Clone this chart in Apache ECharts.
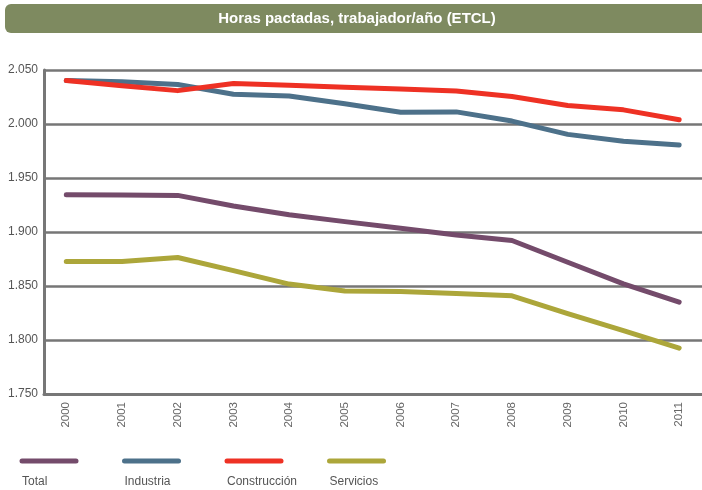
<!DOCTYPE html>
<html>
<head>
<meta charset="utf-8">
<script src="https://cdn.jsdelivr.net/npm/echarts@6/dist/echarts.min.js"></script>
<style>
  html, body { margin: 0; padding: 0; background: #fff; }
  #chart { width: 702px; height: 490px; }
</style>
</head>
<body>
<div id="chart"></div>
<script>
const title = 'Horas pactadas, trabajador/año (ETCL)'
const years = [2000, 2001, 2002, 2003, 2004, 2005, 2006, 2007, 2008, 2009, 2010, 2011]
const yTicks = [1750, 1800, 1850, 1900, 1950, 2000, 2050]

const total = [1934.5, 1934.3, 1933.9, 1924, 1916, 1909.6, 1903.4, 1897.3, 1892.1, 1872, 1852, 1835]
const industria = [2040.2, 2039.1, 2036.5, 2027.6, 2026, 2018.7, 2010.9, 2011.2, 2002.7, 1990.4, 1984, 1980.5]
const construccion = [2040.2, 2035.5, 2030.9, 2037.5, 2035.8, 2034.1, 2032.3, 2030.6, 2025.4, 2017.2, 2013.1, 2003.9]
const servicios = [1872.7, 1872.7, 1876.4, 1864.2, 1851.8, 1845.4, 1844.8, 1843.1, 1840.9, 1824.5, 1808.6, 1792.5]

const seriesNames = ['Total', 'Industria', 'Construcción', 'Servicios']
const seriesData = [total, industria, construccion, servicios]
const colors = ['#744b6b', '#4d718a', '#ee3124', '#aca63a']

const chart = echarts.init(document.getElementById('chart'))

// leyenda: trazo arriba, texto debajo
const legendItems = []
seriesNames.forEach((name, i) => {
  const x = 20 + i * 102.5
  legendItems.push({
    type: 'line',
    shape: { x1: x + 2, y1: 461, x2: x + 56, y2: 461 },
    style: { stroke: colors[i], lineWidth: 5, lineCap: 'round' }
  })
  legendItems.push({
    type: 'text',
    x: x + 2,
    y: 476,
    style: { text: name, fill: '#555', font: '12px "Liberation Sans", Arial, sans-serif' }
  })
})

chart.setOption({
  animation: false,
  grid: { left: 44, right: 0, top: 70, bottom: 96 },
  graphic: [
    {
      type: 'rect',
      shape: { x: 5, y: 4, width: 720, height: 29, r: 6 },
      style: { fill: '#7e8a60' }
    },
    {
      type: 'text',
      x: 357,
      y: 19,
      style: {
        text: title,
        fill: '#fff',
        font: 'bold 15px "Liberation Sans Narrow", "Liberation Sans", Arial, sans-serif',
        align: 'center',
        verticalAlign: 'middle'
      }
    },
    ...legendItems
  ],
  xAxis: {
    type: 'value',
    min: 1999.6,
    max: 2011.41,
    axisLine: { lineStyle: { color: '#777', width: 3 } },
    axisTick: { show: false },
    splitLine: { show: false },
    axisLabel: {
      customValues: years,
      rotate: 90,
      margin: 8,
      color: '#666',
      fontSize: 11.5,
      fontFamily: 'Liberation Sans, Arial, sans-serif',
      formatter: v => String(v)
    }
  },
  yAxis: {
    type: 'value',
    min: yTicks[0],
    max: yTicks[yTicks.length - 1],
    interval: 50,
    axisLine: { show: true, lineStyle: { color: '#777', width: 3 } },
    axisTick: { show: false },
    splitLine: { lineStyle: { color: '#767676', width: 2.5 } },
    axisLabel: {
      color: '#555',
      fontSize: 12,
      margin: 6,
      fontFamily: 'Liberation Sans, Arial, sans-serif',
      formatter: v => (v / 1000).toFixed(3)
    }
  },
  series: seriesNames.map((name, i) => ({
    name,
    type: 'line',
    data: years.map((y, j) => [y, seriesData[i][j]]),
    symbol: 'none',
    lineStyle: { color: colors[i], width: 5, cap: 'round', join: 'round' }
  }))
})
</script>
</body>
</html>
